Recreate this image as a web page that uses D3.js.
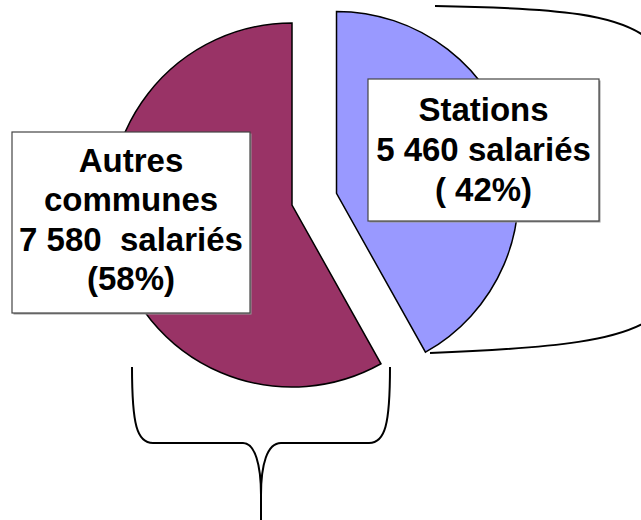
<!DOCTYPE html>
<html>
<head>
<meta charset="utf-8">
<script src="https://cdn.jsdelivr.net/npm/d3@7"></script>
<style>
  html, body { margin: 0; padding: 0; background: #fff; }
  svg { display: block; }
</style>
</head>
<body>
<script>
// données
const categories = ["Stations", "Autres communes"];
const salaries = [5460, 7580];
const colors = ["#9999FF", "#993366"];
const labelStations = ["Stations", "5 460 salariés", "( 42%)"];
const labelAutres = ["Autres", "communes", "7 580  salariés", "(58%)"];

const width = 641, height = 520;
const cx = 292, cy = 205, radius = 182;
const explode = 46;

const svg = d3.select("body").append("svg")
  .attr("width", width)
  .attr("height", height);

const pie = d3.pie().sort(null).value(d => d)(salaries);
const arc = d3.arc().innerRadius(0).outerRadius(radius);

// accolades
svg.append("path")
  .attr("d", "M435,6 C560,8 622,14 652,42 L652,318 C622,340 560,348 430,353")
  .attr("fill", "none").attr("stroke", "#000").attr("stroke-width", 2);

svg.append("path")
  .attr("d", "M132,367 C132,425 137,443 153,443 L243,443 C255,443 261,465 261,495 L261,520" +
             " M390,367 C390,425 385,443 369,443 L281,443 C267,443 261,465 261,495")
  .attr("fill", "none").attr("stroke", "#000").attr("stroke-width", 2);

const g = svg.append("g").attr("transform", `translate(${cx},${cy})`);

g.selectAll("path.slice")
  .data(pie)
  .enter().append("path")
  .attr("class", "slice")
  .attr("d", arc)
  .attr("fill", (d, i) => colors[i])
  .attr("stroke", "#000")
  .attr("stroke-width", 1.5)
  .attr("transform", (d, i) => {
    if (i !== 0) return null;
    const a = (d.startAngle + d.endAngle) / 2;
    return `translate(${explode * Math.sin(a)},${-explode * Math.cos(a)})`;
  });

// étiquettes
function labelBox(x0, y0, x1, y1, lines, firstBaseline, step) {
  svg.append("rect")
    .attr("x", x0 + 1.5).attr("y", y0 + 1.5)
    .attr("width", x1 - x0).attr("height", y1 - y0)
    .attr("fill", "#999");
  svg.append("rect")
    .attr("x", x0).attr("y", y0)
    .attr("width", x1 - x0).attr("height", y1 - y0)
    .attr("fill", "#fff")
    .attr("stroke", "#444").attr("stroke-width", 1.2);
  svg.append("g").selectAll("text")
    .data(lines)
    .enter().append("text")
    .attr("x", (x0 + x1) / 2)
    .attr("y", (d, i) => firstBaseline + i * step)
    .attr("text-anchor", "middle")
    .attr("font-family", "'Liberation Sans', Arial, sans-serif")
    .attr("font-weight", "bold")
    .attr("font-size", 33)
    .attr("fill", "#000")
    .style("white-space", "pre")
    .text(d => d);
}

labelBox(368, 79, 599, 221, labelStations, 121, 40);
labelBox(12, 132, 250, 313, labelAutres, 172, 39.3);
</script>
</body>
</html>
